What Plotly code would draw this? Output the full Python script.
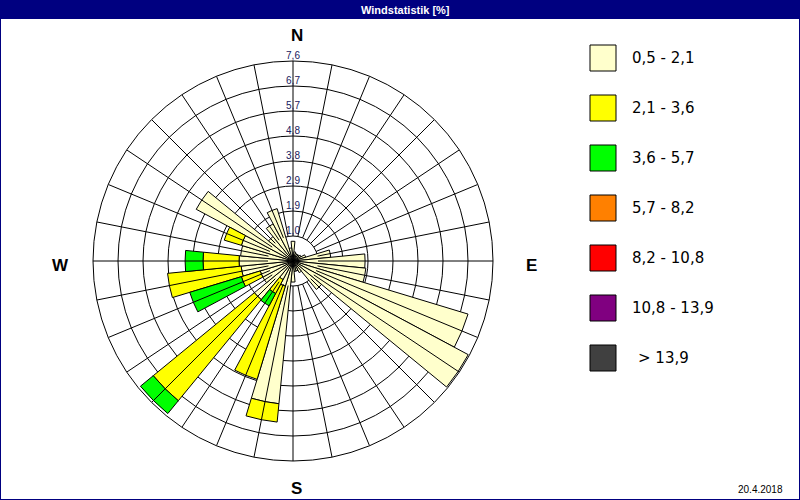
import plotly.graph_objects as go

# ---- data -------------------------------------------------------------
directions = [k * 11.25 for k in range(32)]  # sector centres, degrees from N

speed_classes = ["0,5 - 2,1", "2,1 - 3,6", "3,6 - 5,7", "5,7 - 8,2",
                 "8,2 - 10,8", "10,8 - 13,9", " > 13,9"]
class_colors = ["#FFFFCC", "#FFFF00", "#00FF00", "#FF8000",
                "#FF0000", "#800080", "#404040"]

# segment lengths (%) per direction, stacked from the centre outwards
c1 = [0.75, 0.35, 0.30, 0.30, 0.30, 0.35, 0.50, 1.44,
      2.74, 2.78, 6.95, 7.55, 1.40, 0.50, 0.40, 0.40,
      0.80, 5.45, 1.00, 0.80, 1.90, 1.30, 1.30, 1.98,
      2.05, 2.00, 2.05, 4.17, 1.20, 1.60, 2.08, 0.50]
c2 = [None, None, None, None, None, None, None, None,
      None, None, None, None, None, None, None, None,
      None, 0.70, 3.70, 0.60, 4.97, None, 0.75, 2.81,
      1.37, None, 0.68, None, None, None, None, None]
c3 = [None, None, None, None, None, None, None, None,
      None, None, None, None, None, None, None, None,
      None, None, None, 0.53, 0.63, None, 2.05, None,
      0.68, None, None, None, None, None, None, None]
series = [c1, c2, c3]

r_max = 7.6
ring_values = [0.95, 1.9, 2.85, 3.8, 4.75, 5.7, 6.65, 7.6]
ring_labels = ["1,0", "1,9", "2,9", "3,8", "4,8", "5,7", "6,7", "7,6"]

# ---- figure -----------------------------------------------------------
fig = go.Figure()

# spokes (grid)
sp_r, sp_t = [], []
for t in directions:
    sp_r += [ring_values[0], r_max, None]
    sp_t += [t, t, None]
fig.add_trace(go.Scatterpolar(r=sp_r, theta=sp_t, mode="lines",
                              line=dict(color="black", width=1),
                              hoverinfo="skip", showlegend=False))

for vals, name, col in zip(series, speed_classes, class_colors):
    fig.add_trace(go.Barpolar(r=vals, theta=directions, width=11.25,
                              name=name, showlegend=False,
                              marker=dict(color=col,
                                          line=dict(color="black", width=1))))

# ring labels along the N axis
fig.add_trace(go.Scatterpolar(r=ring_values, theta=[0] * len(ring_values),
                              mode="text", text=ring_labels,
                              textposition="top center",
                              textfont=dict(family="Liberation Sans", size=10,
                                            color="#202060"),
                              hoverinfo="skip", showlegend=False))

W, H = 800, 500
cx, cy, R = 293, 261, 200
fig.update_layout(
    width=W, height=H, margin=dict(l=0, r=0, t=0, b=0),
    paper_bgcolor="white", showlegend=False,
    polar=dict(
        domain=dict(x=[(cx - R) / W, (cx + R) / W],
                    y=[1 - (cy + R) / H, 1 - (cy - R) / H]),
        bgcolor="white", barmode="stack",
        radialaxis=dict(range=[0, r_max], tickvals=ring_values[:-1],
                        showgrid=True, gridcolor="black", gridwidth=1,
                        showline=False, showticklabels=False, ticks=""),
        angularaxis=dict(rotation=90, direction="clockwise",
                         showgrid=False, showticklabels=False, ticks="",
                         showline=True, linecolor="black", linewidth=1),
    ),
)

shapes = [
    dict(type="rect", xref="paper", yref="paper", x0=0, x1=1,
         y0=1 - 19 / H, y1=1, fillcolor="#000080", line=dict(width=0),
         layer="above"),
    dict(type="rect", xref="paper", yref="paper", x0=0, x1=1, y0=0, y1=1,
         fillcolor="rgba(0,0,0,0)", line=dict(color="#000080", width=2)),
]
annotations = [
    dict(text="<b>Windstatistik [%]</b>", x=405 / W, y=1 - 9.5 / H, xref="paper",
         yref="paper", showarrow=False, xanchor="center", yanchor="middle",
         font=dict(family="Liberation Sans", size=11, color="white")),
    dict(text="20.4.2018", x=785 / W, y=1 - 489 / H, xref="paper",
         yref="paper", showarrow=False, xanchor="right", yanchor="middle",
         font=dict(family="Liberation Sans", size=10, color="black")),
]
for txt, px, py in [("N", 297, 35), ("S", 296, 488), ("W", 60, 265), ("E", 531, 265)]:
    annotations.append(dict(text="<b>%s</b>" % txt, x=px / W, y=1 - py / H,
                            xref="paper", yref="paper", showarrow=False,
                            xanchor="center", yanchor="middle",
                            font=dict(family="Liberation Sans", size=17,
                                      color="black")))
for i, (name, col) in enumerate(zip(speed_classes, class_colors)):
    top = 45 + 50 * i
    shapes.append(dict(type="rect", xref="paper", yref="paper",
                       x0=590 / W, x1=616 / W, y0=1 - (top + 26) / H,
                       y1=1 - top / H, fillcolor=col,
                       line=dict(color="black", width=1)))
    annotations.append(dict(text=name.strip(),
                            x=(636 if name.startswith(" ") else 630) / W,
                            y=1 - (top + 13) / H, xref="paper", yref="paper",
                            showarrow=False, xanchor="left", yanchor="middle",
                            font=dict(family="DejaVu Sans", size=15,
                                      color="black")))
fig.update_layout(shapes=shapes, annotations=annotations)

fig.write_html("out.html")
